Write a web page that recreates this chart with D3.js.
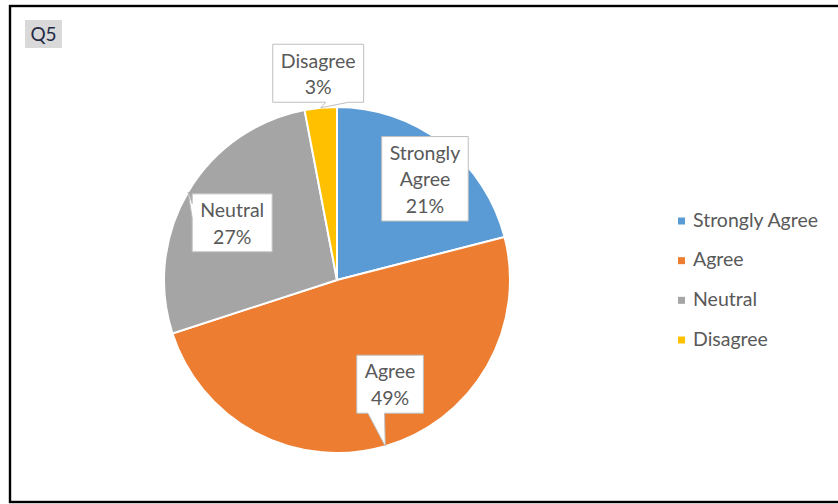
<!DOCTYPE html>
<html>
<head>
<meta charset="utf-8">
<script src="https://cdn.jsdelivr.net/npm/d3@7"></script>
<style>
  html, body { margin: 0; padding: 0; background: #fff; }
  svg { display: block; }
  text { font-family: Lato, "Open Sans", sans-serif; }
</style>
</head>
<body>
<svg id="chart" width="838" height="504"></svg>
<script>
// Q5 responses (percent of respondents)
const categories = ["Strongly Agree", "Agree", "Neutral", "Disagree"];
const shares = [21, 49, 27, 3];
const colors = ["#5B9BD5", "#ED7D31", "#A5A5A5", "#FFC000"];
const chartTitle = "Q5";

// Where each callout sits relative to its slice: radius factor and angular nudge (degrees)
const calloutRadius = [0.775, 0.676, 0.69, 1.2];
const calloutNudge = [3.2, -10.8, -2, 0.2];

const W = 838, H = 504;
const svg = d3.select("#chart");
const textGray = "#595959";
const fontSize = 19.5;
const lineH = 26.5;

svg.append("rect").attr("width", W).attr("height", H).attr("fill", "#fff");

// Frame (right side runs off the page)
svg.append("rect")
  .attr("x", 10).attr("y", 6)
  .attr("width", 900).attr("height", 496)
  .attr("fill", "none").attr("stroke", "#000").attr("stroke-width", 2.4);

// Title tag
const tag = svg.append("g");
tag.append("rect").attr("x", 25).attr("y", 20).attr("width", 37).attr("height", 28).attr("fill", "#d9d9d9");
tag.append("text").attr("x", 43.5).attr("y", 33.5).attr("text-anchor", "middle")
  .attr("dominant-baseline", "central").attr("font-size", 19).attr("fill", "#1f2a44").text(chartTitle);

// Pie
const cx = 337, cy = 280, R = 173;
const pie = d3.pie().sort(null).value(d => d).startAngle(0).endAngle(2 * Math.PI);
const arcs = pie(shares);
const arc = d3.arc().innerRadius(0).outerRadius(R);

const g = svg.append("g").attr("transform", `translate(${cx},${cy})`);
g.selectAll("path.slice").data(arcs).join("path")
  .attr("class", "slice")
  .attr("d", arc)
  .attr("fill", (d, i) => colors[i])
  .attr("stroke", "#fff").attr("stroke-width", 2);

// Callout labels
const polar = (ang, r) => [r * Math.sin(ang), -r * Math.cos(ang)];
const measure = svg.append("text").attr("font-size", fontSize).attr("visibility", "hidden");
function textWidth(s) { measure.text(s); return measure.node().getComputedTextLength(); }

arcs.forEach((d, i) => {
  const mid = (d.startAngle + d.endAngle) / 2;
  const lines = categories[i].split(" ").concat([d.data + "%"]);
  const tw = d3.max(lines, textWidth);
  const bw = tw + 16, bh = lines.length * lineH + 5;
  const [bx, by] = polar(mid + calloutNudge[i] * Math.PI / 180, R * calloutRadius[i]);
  const [tx, ty] = polar(mid, R);
  const l = bx - bw / 2, r = bx + bw / 2, t = by - bh / 2, b = by + bh / 2;

  // Box outline, with a wedge toward the slice edge when the edge point lies outside the box
  let p;
  const outside = tx < l || tx > r || ty < t || ty > b;
  if (!outside) {
    p = `M${l},${t}H${r}V${b}H${l}Z`;
  } else {
    const dx = (tx - bx) / bw, dy = (ty - by) / bh;
    if (Math.abs(dy) >= Math.abs(dx)) {
      const x1 = tx < bx ? l + bw / 6 : l + bw * 7 / 12;
      const x2 = tx < bx ? l + bw * 5 / 12 : l + bw * 5 / 6;
      if (dy > 0) p = `M${l},${t}H${r}V${b}H${x2}L${tx},${ty}L${x1},${b}H${l}Z`;
      else p = `M${l},${t}H${x1}L${tx},${ty}L${x2},${t}H${r}V${b}H${l}Z`;
    } else {
      const y1 = ty < by ? t + bh / 6 : t + bh * 7 / 12;
      const y2 = ty < by ? t + bh * 5 / 12 : t + bh * 5 / 6;
      if (dx < 0) p = `M${l},${t}H${r}V${b}H${l}V${y2}L${tx},${ty}L${l},${y1}Z`;
      else p = `M${l},${t}H${r}V${y1}L${tx},${ty}L${r},${y2}V${b}H${l}Z`;
    }
  }
  const lab = g.append("g");
  lab.append("path").attr("d", p).attr("fill", "#fff").attr("stroke", "#bfbfbf").attr("stroke-width", 1);
  lab.selectAll("text").data(lines).join("text")
    .attr("x", bx)
    .attr("y", (s, k) => by + (k - (lines.length - 1) / 2) * lineH)
    .attr("text-anchor", "middle").attr("dominant-baseline", "central")
    .attr("font-size", fontSize).attr("fill", textGray)
    .text(s => s);
});
measure.remove();

// Legend
const legendY = d3.scalePoint().domain(categories).range([221, 340]);
const lg = svg.append("g");
categories.forEach((c, i) => {
  const y = legendY(c);
  lg.append("rect").attr("x", 678).attr("y", y - 3.5).attr("width", 7).attr("height", 7).attr("fill", colors[i]);
  lg.append("text").attr("x", 693).attr("y", y - 2).attr("dominant-baseline", "central")
    .attr("font-size", fontSize).attr("fill", textGray).text(c);
});
</script>
</body>
</html>
